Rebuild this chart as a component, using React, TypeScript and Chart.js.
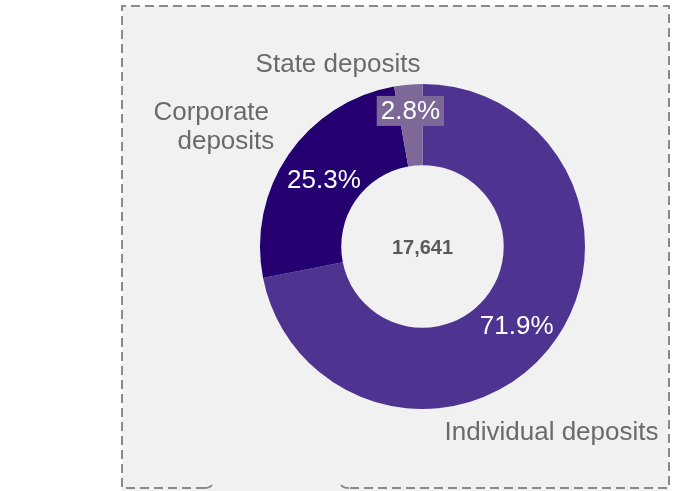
import React, { useEffect, useRef } from "react";
import { Chart, registerables } from "chart.js";

Chart.register(...registerables);

const categories = ["Individual deposits", "Corporate deposits", "State deposits"];
const shares = [71.9, 25.3, 2.8];
const shareLabels = ["71.9%", "25.3%", "2.8%"];
const totalLabel = "17,641";
const colors = ["#4f3391", "#240071", "#7e6898"];

// outer label lines per category (text split in lines)
const outerLines = [["Individual deposits"], ["Corporate", "deposits"], ["State deposits"]];

const FONT = '"Liberation Sans", Arial, sans-serif';

const boxPlugin = {
  id: "box",
  beforeDraw(chart: any) {
    const ctx = chart.ctx;
    const L = 122, T = 6, R = 669, B = 488;
    ctx.save();
    ctx.fillStyle = "#f1f1f1";
    ctx.fillRect(L, T, R - L, chart.height - T);
    ctx.strokeStyle = "#8a8a8a";
    ctx.lineWidth = 2;
    ctx.setLineDash([9, 5]);
    ctx.beginPath();
    ctx.moveTo(205, B);
    ctx.lineTo(L, B);
    ctx.lineTo(L, T);
    ctx.lineTo(R, T);
    ctx.lineTo(R, B);
    ctx.lineTo(348, B);
    ctx.stroke();
    ctx.setLineDash([]);
    ctx.beginPath();
    ctx.moveTo(204, B);
    ctx.quadraticCurveTo(210, B, 212, B - 3);
    ctx.stroke();
    ctx.beginPath();
    ctx.moveTo(349, B);
    ctx.quadraticCurveTo(343, B, 341, B - 3);
    ctx.stroke();
    ctx.restore();
  },
};

// label placement: offsets relative to outer radius
const outerPos = [
  { dx: 0.794, dy: 1.188 },
  { dx: -1.21, dy: -0.78 },
  { dx: -0.52, dy: -1.075 },
];
const outerLineX = [[0], [-0.09, 0.0], [0]];
const lineGap = 29;

const labelPlugin = {
  id: "labels",
  afterDraw(chart: any) {
    const ctx = chart.ctx;
    const meta = chart.getDatasetMeta(0);
    ctx.save();
    meta.data.forEach((arc: any, i: number) => {
      const { x, y, startAngle, endAngle, innerRadius, outerRadius } = arc.getProps(
        ["x", "y", "startAngle", "endAngle", "innerRadius", "outerRadius"],
        true
      );
      const mid = (startAngle + endAngle) / 2;
      const rf = i === 2 ? 0.85 : 0.5 * (innerRadius + outerRadius) / outerRadius;
      const px = x + Math.cos(mid) * outerRadius * rf + (i === 1 ? 2 : 0);
      const py = y + Math.sin(mid) * outerRadius * rf + 2;
      ctx.font = `26px ${FONT}`;
      ctx.textAlign = "center";
      ctx.textBaseline = "middle";
      if (i === 2) {
        const w = ctx.measureText(shareLabels[i]).width;
        ctx.fillStyle = colors[i];
        ctx.fillRect(px - w / 2 - 4, py - 15, w + 8, 30);
      }
      ctx.fillStyle = "#ffffff";
      ctx.fillText(shareLabels[i], px, py + 1);

      // outer category labels
      ctx.fillStyle = "#6a6a6a";
      ctx.textBaseline = "alphabetic";
      const pos = outerPos[i];
      outerLines[i].forEach((line, j) => {
        const lx = x + (pos.dx + outerLineX[i][j]) * outerRadius;
        const ly = y + pos.dy * outerRadius + j * lineGap;
        ctx.fillText(line, lx, ly);
      });
      if (i === 0) {
        ctx.font = `bold 20px ${FONT}`;
        ctx.fillStyle = "#5a5a5a";
        ctx.textBaseline = "middle";
        ctx.fillText(totalLabel, x, y + 2);
      }
    });
    ctx.restore();
  },
};

export default function App() {
  const ref = useRef<HTMLCanvasElement>(null);
  useEffect(() => {
    document.body.style.margin = "0";
    const chart = new Chart(ref.current!, {
      type: "doughnut",
      data: {
        labels: categories,
        datasets: [
          {
            data: shares,
            backgroundColor: colors,
            borderWidth: 0,
          },
        ],
      },
      options: {
        animation: false,
        responsive: false,
        cutout: "50%",
        layout: { padding: { left: 260, right: 91, top: 84, bottom: 82 } },
        plugins: { legend: { display: false }, tooltip: { enabled: false } },
      },
      plugins: [boxPlugin, labelPlugin],
    });
    return () => chart.destroy();
  }, []);
  return <canvas ref={ref} width={676} height={491} style={{ display: "block" }} />;
}
